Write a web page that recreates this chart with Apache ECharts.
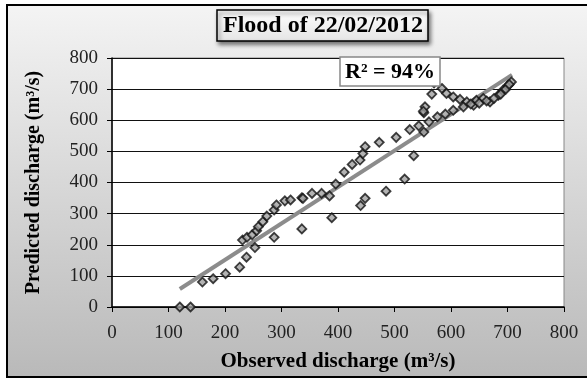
<!DOCTYPE html>
<html><head><meta charset="utf-8">
<script src="https://cdn.jsdelivr.net/npm/echarts@6/dist/echarts.min.js"></script>
<style>html,body{margin:0;padding:0;background:#fff}#c{width:587px;height:378px}</style>
</head><body><div id="c"></div>
<script>
const observed = [120,139,160,179,201,226,238,253,231,239,248,256,259,267,274,287,291,306,316,336,287,336,
  338,354,371,385,389,396,411,425,439,444,448,440,448,473,485,503,518,534,527,543,552,552,561,576,590,
  570,566,554,551,584,592,604,616,628,604,622,640,645,657,669,684,692,701,707,635,650,663,676,688,697,703];
const predicted = [0,0,80,91,107,128,160,191,215,224,232,245,258,274,292,312,328,341,344,351,224,251,
  349,365,365,357,287,395,433,458,472,493,515,326,349,529,372,545,411,486,570,582,562,624,595,611,620,
  720,684,643,629,702,686,675,667,659,632,643,648,664,670,659,680,696,712,723,652,655,662,670,684,700,715];
const trendX = [120, 708];
const trendY = [58, 746];
const xTicks = [0,100,200,300,400,500,600,700,800];
const yTicks = [0,100,200,300,400,500,600,700,800];
const titleText = 'Flood of 22/02/2012';
const r2Text = 'R² = 94%';
const xName = 'Observed discharge (m³/s)';
const yName = 'Predicted discharge (m³/s)';

const chart = echarts.init(document.getElementById('c'), null, {renderer:'canvas'});
const serif = '"Liberation Serif","Times New Roman",serif';
chart.setOption({
  animation:false,
  backgroundColor:'#fff',
  graphic:[
    {type:'rect', z:-10, shape:{x:7,y:5,width:582,height:372},
     style:{fill:new echarts.graphic.LinearGradient(0,0,0,1,[{offset:0,color:'#f4f4f4'},{offset:1,color:'#b9b9b9'}]),
            stroke:'#000', lineWidth:2}}
  ],
  title:[
    {text:titleText, left:217, top:10, padding:[4,5,3,6],
     backgroundColor:new echarts.graphic.LinearGradient(0,0,0,1,[{offset:0,color:'#ffffff'},{offset:1,color:'#e4e4e4'}]),
     borderColor:'#000', borderWidth:1.5, shadowColor:'rgba(0,0,0,0.5)', shadowBlur:4, shadowOffsetX:2, shadowOffsetY:3,
     textStyle:{fontFamily:serif, fontWeight:'bold', fontSize:24, color:'#000'}},
    {text:r2Text, left:340, top:57, padding:[4,5,3,5], backgroundColor:'#fff', borderColor:'#888', borderWidth:1.5,
     textStyle:{fontFamily:serif, fontWeight:'bold', fontSize:22, color:'#000'}, z:10}
  ],
  grid:{left:112, right:23, top:58, bottom:71, show:true, backgroundColor:'#fff', borderColor:'#888', borderWidth:1},
  xAxis:{type:'value', min:xTicks[0], max:xTicks[xTicks.length-1], interval:100,
    name:xName, nameLocation:'middle', nameGap:44,
    nameTextStyle:{fontFamily:serif, fontWeight:'bold', fontSize:21, color:'#000'},
    axisLine:{show:true, lineStyle:{color:'#000', width:1.5}}, axisTick:{show:true, inside:false, length:5, lineStyle:{color:'#000'}},
    axisLabel:{fontFamily:serif, fontSize:19, color:'#222', margin:17},
    splitLine:{show:false}},
  yAxis:{type:'value', min:yTicks[0], max:yTicks[yTicks.length-1], interval:100,
    name:yName, nameLocation:'middle', nameGap:68,
    nameTextStyle:{fontFamily:serif, fontWeight:'bold', fontSize:20, color:'#000'},
    axisLine:{show:true, lineStyle:{color:'#000', width:1.5}}, axisTick:{show:true, inside:false, length:5, lineStyle:{color:'#000'}},
    axisLabel:{fontFamily:serif, fontSize:19, color:'#222', margin:14},
    splitLine:{show:true, lineStyle:{color:'#111', width:1}}},
  series:[
    {type:'line', data:trendX.map((x,i)=>[x,trendY[i]]), symbol:'none', lineStyle:{color:'#8c8c8c', width:4}, z:2},
    {type:'scatter', data:observed.map((x,i)=>[x,predicted[i]]), symbol:'diamond', symbolSize:9,
     itemStyle:{color:'#a0a0a0', borderColor:'#111', borderWidth:1.8}, z:3}
  ]
});
</script></body></html>
